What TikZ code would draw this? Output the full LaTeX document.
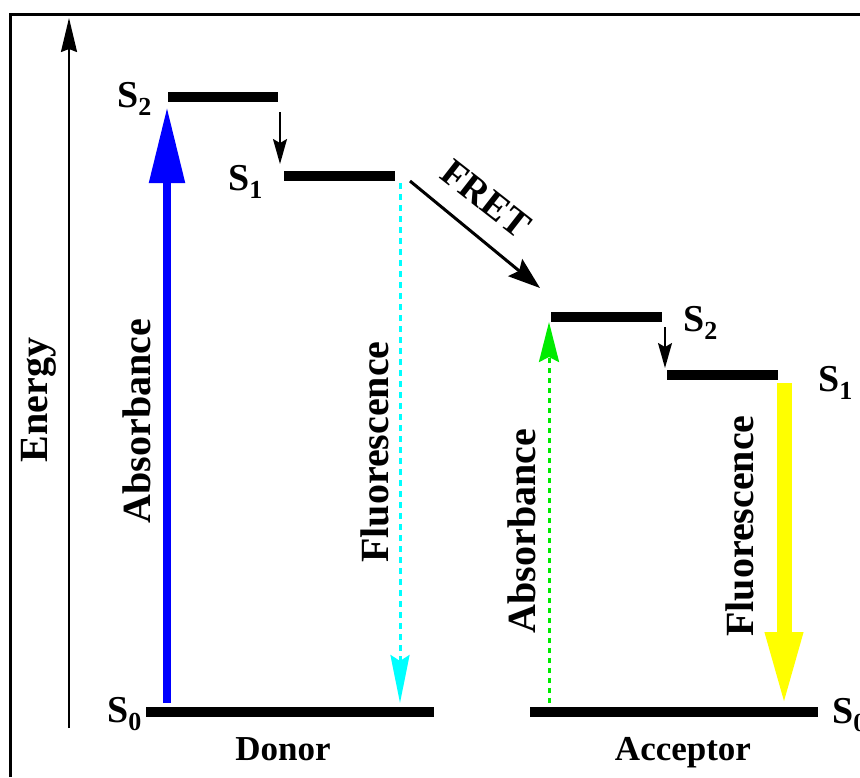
\documentclass[tikz,border=0pt]{standalone}
\usepackage{fontspec}
\setmainfont{Liberation Serif}
\usetikzlibrary{arrows.meta}
\definecolor{fblue}{RGB}{0,0,255}
\definecolor{fcyan}{RGB}{0,255,255}
\definecolor{fgreen}{RGB}{0,235,0}
\definecolor{fyellow}{RGB}{255,255,0}
\newcommand\lowsub[1]{\raisebox{-8pt}{\fontsize{26pt}{26pt}\selectfont #1}}
\tikzset{
  level/.style={line width=10pt, line cap=butt},
  slab/.style={font=\fontsize{38pt}{38pt}\selectfont\bfseries, inner sep=0pt, anchor=base west},
  vlab/.style={font=\fontsize{40pt}{40pt}\selectfont\bfseries, inner sep=0pt, rotate=90},
  hlab/.style={font=\fontsize{35pt}{35pt}\selectfont\bfseries, inner sep=0pt, anchor=base},
  relax/.style={line width=1.6pt, -{Stealth[length=25pt,width=14pt,inset=4pt]}},
}
\begin{document}
\begin{tikzpicture}[x=1pt,y=-1pt]
\useasboundingbox (0,0) rectangle (860,777);
% frame
\coordinate (fbl) at (10,777);
\coordinate (ftl) at (10,14);
\coordinate (ftr) at (860,14);
\draw[line width=3pt] (fbl) -- (ftl) -- (ftr);
% energy axis
\coordinate (eb) at (69,728);
\coordinate (et) at (69,18);
\draw[line width=2pt, -{Stealth[length=34pt,width=16pt,inset=3pt]}] (eb) -- (et);
\node[vlab] (energy) at (39,400) {Energy};
% donor levels
\coordinate (dS2a) at (168,97);  \coordinate (dS2b) at (278,97);
\coordinate (dS1a) at (284,175.5); \coordinate (dS1b) at (395,175.5);
\coordinate (dS0a) at (146,712); \coordinate (dS0b) at (434,712);
\draw[level] (dS2a) -- (dS2b);
\draw[level] (dS1a) -- (dS1b);
\draw[level] (dS0a) -- (dS0b);
\node[slab] (ldS2) at (117,107) {S\lowsub{2}};
\node[slab] (ldS1) at (228,190) {S\lowsub{1}};
\node[slab] (ldS0) at (107,722) {S\lowsub{0}};
% acceptor levels
\coordinate (aS2a) at (551,317); \coordinate (aS2b) at (662,317);
\coordinate (aS1a) at (667,375); \coordinate (aS1b) at (778,375);
\coordinate (aS0a) at (530,712); \coordinate (aS0b) at (818,712);
\draw[level] (aS2a) -- (aS2b);
\draw[level] (aS1a) -- (aS1b);
\draw[level] (aS0a) -- (aS0b);
\node[slab] (laS2) at (683,331) {S\lowsub{2}};
\node[slab] (laS1) at (818,391) {S\lowsub{1}};
\node[slab] (laS0) at (832,723) {S\lowsub{0}};
% relaxation arrows
\coordinate (r1s) at (280,112); \coordinate (r1e) at (280,164);
\coordinate (r2s) at (665,327); \coordinate (r2e) at (665,368);
\draw[relax] (r1s) -- (r1e);
\draw[relax] (r2s) -- (r2e);
% donor absorbance
\coordinate (dab) at (167,703); \coordinate (dat) at (167,107);
\draw[fblue, line width=8.5pt, -{Triangle[length=76pt,width=34pt]}] (dab) -- (dat);
\node[vlab] (dabs) at (137,421) {Absorbance};
% donor fluorescence
\coordinate (dft) at (400,183); \coordinate (dfb) at (400,703);
\draw[fcyan, line width=3pt, dash pattern=on 6pt off 5pt, -{Stealth[length=48pt,width=19pt,inset=6pt]}] (dft) -- (dfb);
\node[vlab] (dflu) at (375,452) {Fluorescence};
% FRET
\coordinate (fs) at (410,181); \coordinate (fe) at (540,288);
\draw[line width=3pt, -{Stealth[length=32pt,width=22pt,inset=5pt]}] (fs) -- (fe);
\node[font=\fontsize{38pt}{38pt}\selectfont\bfseries, inner sep=0pt, rotate=-38] (fret) at (486,199) {FRET};
% acceptor absorbance
\coordinate (aab) at (549,703); \coordinate (aat) at (549,322);
\draw[fgreen, line width=3pt, dash pattern=on 5pt off 5pt, -{Stealth[length=40pt,width=20pt,inset=5pt]}] (aab) -- (aat);
\node[vlab] (aabs) at (522,531) {Absorbance};
% acceptor fluorescence
\coordinate (aft) at (784,383); \coordinate (afb) at (784,708);
\draw[fyellow, line width=15pt, -{Triangle[length=76pt,width=34pt]}] (aft) -- (afb);
\node[vlab] (aflu) at (740,526) {Fluorescence};
% bottom labels
\node[hlab] (donor) at (283,760) {Donor};
\node[hlab] (acceptor) at (683,760) {Acceptor};
\end{tikzpicture}
\end{document}
